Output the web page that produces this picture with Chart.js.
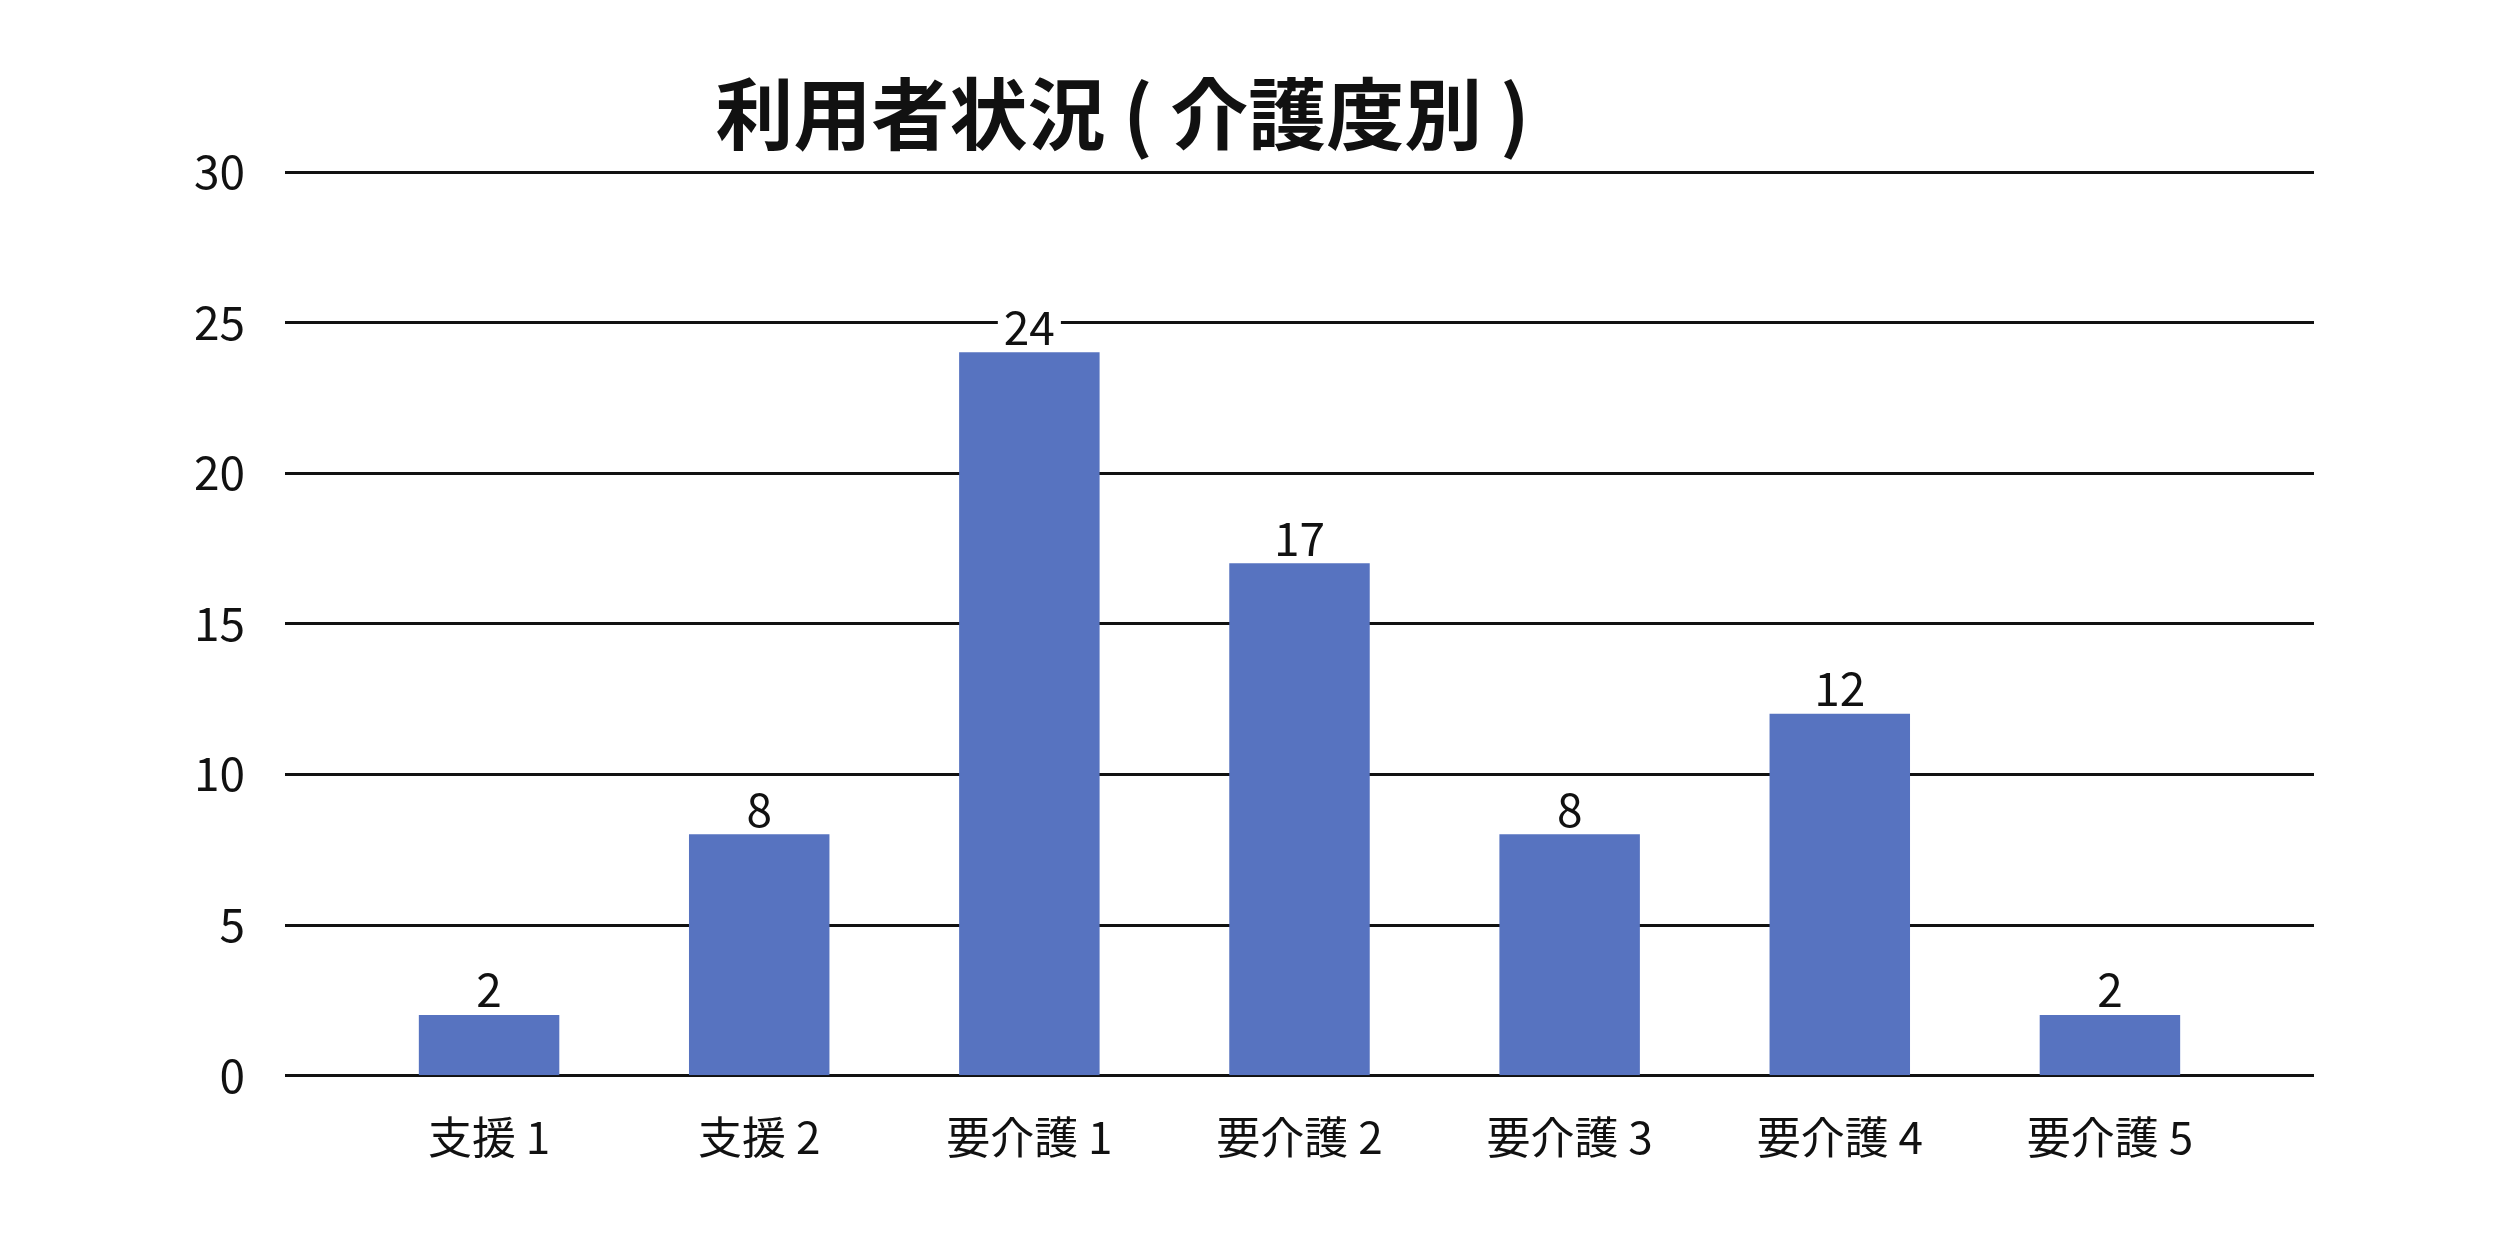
<!DOCTYPE html>
<html>
<head>
<meta charset="utf-8">
<script src="https://cdn.jsdelivr.net/npm/chart.js@4"></script>
<style>
  html, body { margin: 0; padding: 0; background: #fff; }
  #wrap { width: 2501px; height: 1251px; }
</style>
</head>
<body>
<div id="wrap"><canvas id="careChart"></canvas></div>
<script>
const categories = ['支援 1', '支援 2', '要介護 1', '要介護 2', '要介護 3', '要介護 4', '要介護 5'];
const userCounts = [2, 8, 24, 17, 8, 12, 2];
const yTicks = [0, 5, 10, 15, 20, 25, 30];

const FONT = '"Noto Sans CJK JP", "Noto Sans", sans-serif';
const GRID_OVERHANG = 69; // gridlines run past the outer bars

// horizontal gridlines, drawn wider than the category area
const wideGrid = {
    id: 'wideGrid',
    beforeDatasetsDraw(chart) {
        const { ctx, chartArea, scales } = chart;
        ctx.save();
        ctx.strokeStyle = '#111';
        ctx.lineWidth = 3;
        yTicks.forEach(v => {
            const y = Math.round(scales.y.getPixelForValue(v)) + 0.5;
            ctx.beginPath();
            ctx.moveTo(chartArea.left - GRID_OVERHANG, y);
            ctx.lineTo(chartArea.right + GRID_OVERHANG, y);
            ctx.stroke();
        });
        ctx.restore();
    }
};

// value labels above each bar, with a white box so gridlines don't cross them
const valueLabels = {
    id: 'valueLabels',
    afterDatasetsDraw(chart) {
        const ctx = chart.ctx;
        const meta = chart.getDatasetMeta(0);
        ctx.save();
        ctx.font = '46px ' + FONT;
        ctx.textAlign = 'center';
        ctx.textBaseline = 'bottom';
        meta.data.forEach((bar, i) => {
            const text = String(userCounts[i]);
            const w = ctx.measureText(text).width;
            const yBase = bar.y - 6;
            ctx.fillStyle = '#fff';
            ctx.fillRect(bar.x - w / 2 - 6, yBase - 48, w + 12, 48);
            ctx.fillStyle = '#111';
            ctx.fillText(text, bar.x, yBase + 4);
        });
        ctx.restore();
    }
};

new Chart(document.getElementById('careChart').getContext('2d'), {
    type: 'bar',
    data: {
        labels: categories,
        datasets: [{
            data: userCounts,
            backgroundColor: '#5773C0',
            barPercentage: 0.52,
            categoryPercentage: 1.0
        }]
    },
    options: {
        responsive: true,
        maintainAspectRatio: false,
        animation: false,
        layout: { padding: { left: 0, right: 256, top: 30, bottom: 59 } },
        plugins: {
            legend: { display: false },
            tooltip: { enabled: false },
            title: {
                display: true,
                text: '利用者状況 ( 介護度別 )',
                color: '#111',
                font: { family: FONT, size: 78, weight: 'bold' },
                padding: { top: 38, bottom: 10 }
            }
        },
        scales: {
            x: {
                grid: { display: false },
                border: { display: false },
                ticks: { color: '#111', font: { family: FONT, size: 44 }, padding: 28 }
            },
            y: {
                min: 0,
                max: 30,
                afterBuildTicks: axis => { axis.ticks = yTicks.map(v => ({ value: v })); },
                afterFit: axis => { axis.width = 354; },
                grid: { display: false },
                border: { display: false },
                ticks: { color: '#111', font: { family: FONT, size: 46 }, padding: 101 }
            }
        }
    },
    plugins: [wideGrid, valueLabels]
});
</script>
</body>
</html>
